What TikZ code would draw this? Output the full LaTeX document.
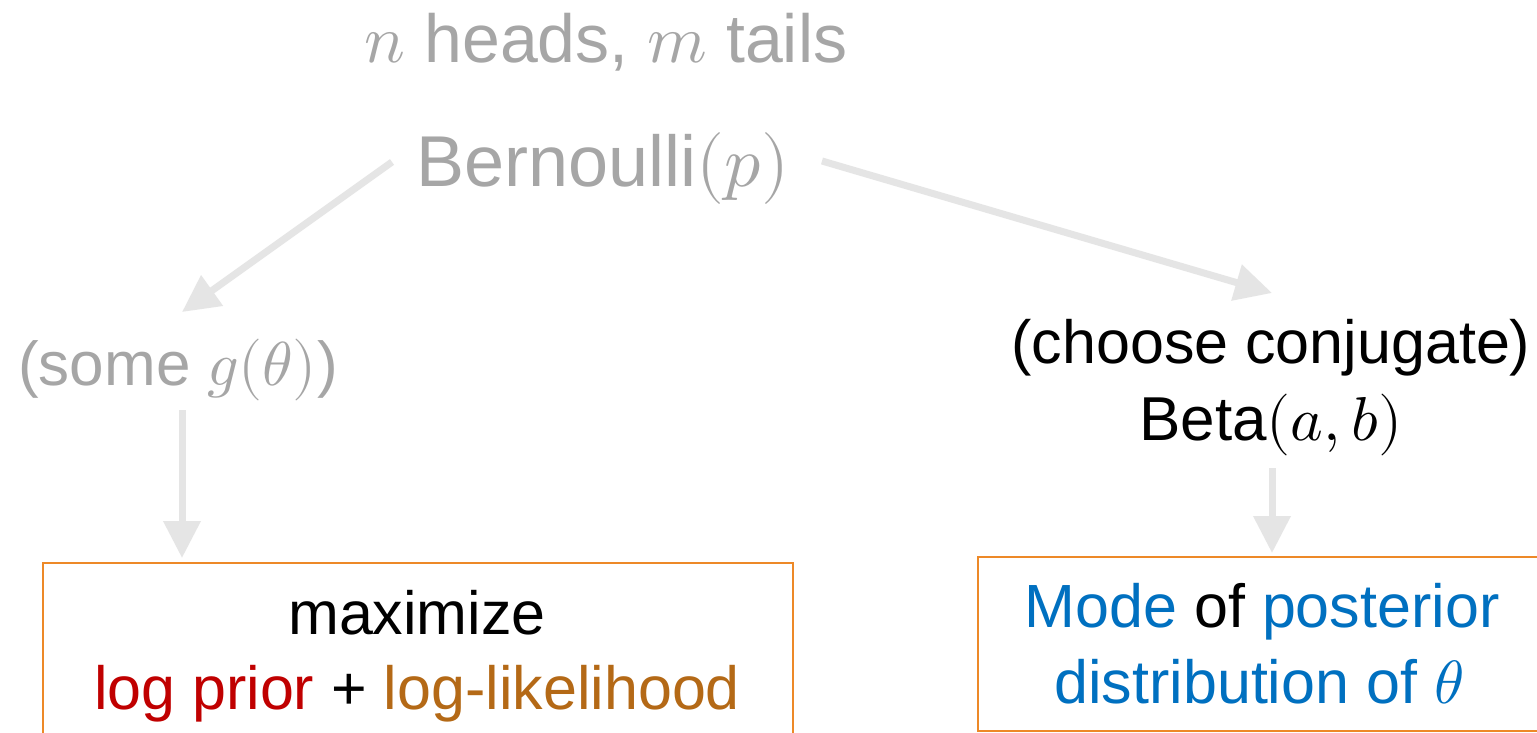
\documentclass[tikz,border=0pt]{standalone}
\usepackage{fontspec}
\usepackage{unicode-math}
\setmainfont{Liberation Sans}
\setmathfont{Latin Modern Math}
\usetikzlibrary{arrows.meta}
\definecolor{txtgray}{RGB}{166,166,166}
\definecolor{arrgray}{RGB}{229,229,229}
\definecolor{boxorange}{RGB}{237,137,40}
\definecolor{logred}{RGB}{192,0,0}
\definecolor{logbrown}{RGB}{180,105,22}
\definecolor{modeblue}{RGB}{0,112,192}
\tikzset{
  arr/.style={draw=arrgray, line width=7pt, -{Triangle[length=37pt,width=36pt]}},
  lbl/.style={inner sep=0pt, anchor=base},
  resbox/.style={draw=boxorange, line width=2pt, inner sep=0pt, anchor=north west}
}
\begin{document}
\begin{tikzpicture}[x=1pt,y=-1pt]
\useasboundingbox (0,0) rectangle (1537,733);
\clip (0,0) rectangle (1537,733);
\fill[white] (0,0) rectangle (1537,733);
% texts
\node[lbl, text=txtgray, font=\fontsize{68}{80}\selectfont] (data) at (606,63) {$n$ heads, $m$ tails};
\node[lbl, text=txtgray, font=\fontsize{72}{86}\selectfont] (bern) at (603,186) {Bernoulli$(p)$};
\node[lbl, text=txtgray, font=\fontsize{62}{74}\selectfont] (some) at (178,385) {(some $g(\theta)$)};
\node[lbl, text=black, font=\fontsize{61}{72}\selectfont] (choose) at (1271,363) {(choose conjugate)};
\node[lbl, text=black, font=\fontsize{62}{74}\selectfont] (beta) at (1271,440) {Beta$(a,b)$};
% boxes
\node[resbox, minimum width=750pt, minimum height=200pt] (lbox) at (42,562) {};
\node[resbox, minimum width=600pt, minimum height=174pt] (rbox) at (977,556) {};
\node[lbl, text=black, font=\fontsize{61}{72}\selectfont] (maxi) at (417,634) {maximize};
\node[lbl, font=\fontsize{61}{72}\selectfont] (logs) at (417,709) {\textcolor{logred}{log prior} + \textcolor{logbrown}{log-likelihood}};
\node[lbl, font=\fontsize{61}{72}\selectfont] (mode) at (1262,627) {\textcolor{modeblue}{Mode} of \textcolor{modeblue}{posterior}};
\node[lbl, text=modeblue, font=\fontsize{61}{72}\selectfont] (distr) at (1259,703) {distribution of $\theta$};
% connector ends
\coordinate (bl) at (392,162);
\coordinate (br) at (822,161);
\coordinate (gl) at (182,312);
\coordinate (bt) at (1272,293);
\coordinate (sd) at (182,410);
\coordinate (bd) at (1272,468);
% arrows
\draw[arr] (bl) -- (gl);
\draw[arr] (br) -- (bt);
\draw[arr] (sd) -- ([yshift=4pt]lbox.north west -| sd);
\draw[arr] (bd) -- ([yshift=3pt]rbox.north west -| bd);
\end{tikzpicture}
\end{document}
